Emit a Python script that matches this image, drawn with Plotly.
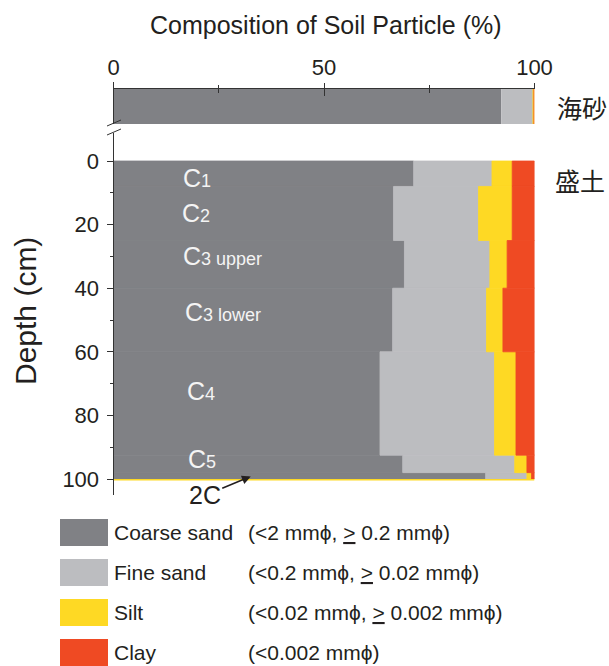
import plotly.graph_objects as go

# ---------------- data ----------------
components = ["Coarse sand", "Fine sand", "Silt", "Clay"]
size_ranges = [
    "(&lt;2 mmϕ, <u>&gt;</u> 0.2 mmϕ)",
    "(&lt;0.2 mmϕ, <u>&gt;</u> 0.02 mmϕ)",
    "(&lt;0.02 mmϕ, <u>&gt;</u> 0.002 mmϕ)",
    "(&lt;0.002 mmϕ)",
]
colors = ["#808185", "#bcbdc0", "#fed924", "#ef4a23"]

# embankment (盛土) soil profile, layers by depth (cm)
depth_top = [0, 8, 25, 40, 60, 92.5, 98]
depth_bottom = [8, 25, 40, 60, 92.5, 98, 100]
coarse = [71.3, 66.5, 69.1, 66.3, 63.3, 68.7, 88.4]
fine = [18.6, 20.2, 20.3, 22.3, 27.2, 26.6, 9.8]
silt = [4.8, 8.0, 4.1, 3.9, 5.1, 2.9, 1.1]
clay = [5.3, 5.3, 6.5, 7.5, 4.4, 1.8, 0.7]

# sea sand (海砂)
sea_sand = [92.1, 7.6, 0.1, 0.2]

horizon_labels = ["1", "2", "3 upper", "3 lower", "4", "5"]
horizon_depth = [5.2, 16.2, 29.8, 47.6, 72.3, 93.7]
horizon_x = [16.0, 15.7, 16.1, 16.4, 16.9, 17.2]

x_ticks = [0, 50, 100]
x_minor = [25, 75]
depth_ticks = [0, 20, 40, 60, 80, 100]
depth_minor = [10, 30, 50, 70, 90]

# ---------------- layout helpers ----------------
W, H = 609, 666
FONT = "Liberation Sans, Arial, sans-serif"
CJK = "Noto Sans CJK JP, sans-serif"
DARK = "#231f20"
AX = "#333333"


def px(x):
    return x / W


def py(y):
    return 1 - y / H


X0, X1 = 113.5, 534.5
D0_PX, D100_PX = 161, 479
scale = (D100_PX - D0_PX) / 100.0
B_TOP, B_BOT = 133, 495
depth_range = [(B_BOT - D0_PX) / scale, (B_TOP - D0_PX) / scale]

fig = go.Figure()

# profile bars
series = [coarse, fine, silt, clay]
mids = [(a + b) / 2 for a, b in zip(depth_top, depth_bottom)]
thick = [b - a for a, b in zip(depth_top, depth_bottom)]
cum = [0.0] * len(mids)
for name, vals, col in zip(components, series, colors):
    fig.add_trace(go.Bar(
        orientation="h", y=mids, x=vals, base=list(cum), width=thick,
        marker=dict(color=col, line=dict(width=0.8, color=col)), name=name,
        xaxis="x", yaxis="y", showlegend=False,
    ))
    cum = [c + v for c, v in zip(cum, vals)]

# 2C boundary
fig.add_trace(go.Scatter(x=[0, 100], y=[100.2, 100.2], mode="lines",
                         line=dict(color=colors[2], width=1.5),
                         xaxis="x", yaxis="y", showlegend=False))

# sea sand bar
c0 = 0.0
for name, v, col in zip(components, sea_sand, colors):
    fig.add_trace(go.Bar(
        orientation="h", y=[18], x=[v], base=[c0], width=[36],
        marker=dict(color=col, line=dict(width=0)), name=name,
        xaxis="x2", yaxis="y2", showlegend=False,
    ))
    c0 += v

xdom = [px(X0), px(X1)]
fig.update_layout(
    template="plotly_white",
    width=W, height=H, margin=dict(l=0, r=0, t=0, b=0, pad=0),
    paper_bgcolor="white", plot_bgcolor="rgba(0,0,0,0)",
    barmode="overlay", font=dict(family=FONT, color=DARK),
    xaxis=dict(domain=xdom, range=[0, 100], visible=False, anchor="y",
               automargin=False),
    yaxis=dict(domain=[py(B_BOT), py(B_TOP)], range=depth_range, anchor="x",
               automargin=False,
               showline=True, linecolor=AX, linewidth=1,
               ticks="outside", ticklen=6, tickcolor=AX,
               tickvals=depth_ticks, ticktext=[str(t) for t in depth_ticks],
               tickfont=dict(size=22, color=DARK), showgrid=False,
               zeroline=False, ticklabelstandoff=3,
               minor=dict(tickvals=depth_minor, ticks="outside", ticklen=3,
                          tickcolor=AX, showgrid=False)),
    xaxis2=dict(domain=xdom, range=[0, 100], anchor="free",
                automargin=False,
                position=py(88), side="top", showline=True,
                linecolor=AX, linewidth=1, ticks="inside", ticklen=7,
                tickcolor=AX, tickvals=x_ticks,
                ticktext=[str(t) for t in x_ticks],
                tickfont=dict(size=22, color=DARK), showgrid=False,
                zeroline=False, ticklabelstandoff=4,
                minor=dict(tickvals=x_minor, ticks="inside", ticklen=4,
                           tickcolor=AX, showgrid=False)),
    xaxis3=dict(domain=xdom, range=[0, 100], anchor="free",
                automargin=False,
                position=py(88), side="top", overlaying="x2",
                showline=False, ticks="outside", ticklen=5,
                tickcolor=AX, tickvals=x_ticks, showticklabels=False,
                showgrid=False, zeroline=False,
                minor=dict(tickvals=x_minor, ticks="outside", ticklen=3,
                           tickcolor=AX, showgrid=False)),
    yaxis2=dict(domain=[py(124), py(82)], range=[0, 42], anchor="x2",
                automargin=False,
                showline=True, linecolor=AX, linewidth=1,
                showticklabels=False, ticks="", showgrid=False,
                zeroline=False),
)
# invisible trace so xaxis3 is drawn
fig.add_trace(go.Scatter(x=[0, 100], y=[None, None], xaxis="x3", yaxis="y2",
                         showlegend=False, mode="lines"))

ann = []
ann.append(dict(text="Composition of Soil Particle (%)", x=px(326), y=py(25),
                xref="paper", yref="paper", showarrow=False,
                font=dict(size=25, color=DARK), xanchor="center",
                yanchor="middle"))
ann.append(dict(text="Depth (cm)", x=px(25), y=py(311), xref="paper",
                yref="paper", showarrow=False, textangle=-90,
                font=dict(size=30, color=DARK), xanchor="center",
                yanchor="middle"))
ann.append(dict(text="海砂", x=px(555), y=py(107), xref="paper", yref="paper",
                showarrow=False, font=dict(size=25, color=DARK, family=CJK),
                xanchor="left", yanchor="middle"))
ann.append(dict(text="盛土", x=px(553), y=py(180), xref="paper", yref="paper",
                showarrow=False, font=dict(size=25, color=DARK, family=CJK),
                xanchor="left", yanchor="middle"))
for lab, d, xx in zip(horizon_labels, horizon_depth, horizon_x):
    ann.append(dict(text="C<span style='font-size:18px'>" + lab + "</span>",
                    x=xx, y=d, xref="x", yref="y", showarrow=False,
                    font=dict(size=25, color="#f4f4f4"), xanchor="left",
                    yanchor="middle"))
ann.append(dict(text="2C", x=32.6, y=99.2, xref="x", yref="y", ax=-46, ay=19,
                showarrow=True, arrowhead=2, arrowsize=1.1, arrowwidth=1.6,
                arrowcolor=DARK, font=dict(size=25, color=DARK)))

# legend (manual)
shapes = []
for i, (name, rng, col) in enumerate(zip(components, size_ranges, colors)):
    top = 519 + 40 * i
    shapes.append(dict(type="rect", xref="paper", yref="paper",
                       x0=px(60), x1=px(108), y0=py(top + 27), y1=py(top),
                       fillcolor=col, line=dict(width=0)))
    ann.append(dict(text=name, x=px(112), y=py(top + 13.5), xref="paper",
                    yref="paper", showarrow=False, xanchor="left",
                    yanchor="middle", font=dict(size=21, color=DARK)))
    ann.append(dict(text=rng, x=px(246), y=py(top + 13.5), xref="paper",
                    yref="paper", showarrow=False, xanchor="left",
                    yanchor="middle", font=dict(size=21, color=DARK)))

# axis break marks
for yb in (123, 132):
    shapes.append(dict(type="line", xref="paper", yref="paper",
                       x0=px(107), x1=px(121), y0=py(yb + 3), y1=py(yb - 3),
                       line=dict(color=AX, width=1)))

fig.update_layout(annotations=ann, shapes=shapes)
fig.write_html("out.html", config={"displayModeBar": False},
               post_script="document.body.style.margin='0';"
                           "document.body.style.overflow='hidden';")
